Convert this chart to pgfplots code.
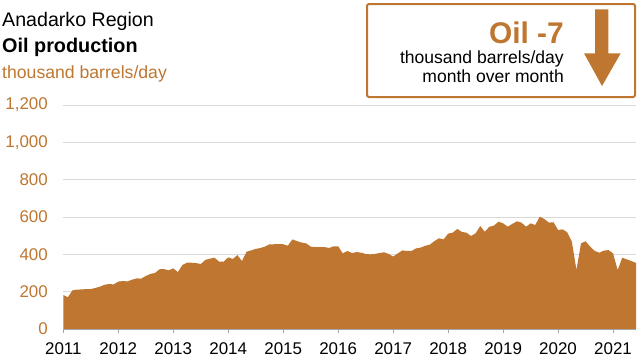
\documentclass[border=0pt]{standalone}
\usepackage{fontspec}
\setmainfont{Liberation Sans}
\usepackage{pgfplots}
\pgfplotsset{compat=1.18}
\usepackage{pgfplotstable}
\definecolor{oilc}{RGB}{190,118,48}
\definecolor{gridc}{RGB}{217,217,217}
\definecolor{basec}{RGB}{166,166,166}

\pgfplotstableread{
k v
0 182
1 170
2 207
3 211
4 212
5 214
6 214
7 220
8 227
9 237
10 241
11 239
12 254
13 257
14 255
15 264
16 271
17 270
18 284
19 295
20 300
21 320
22 321
23 314
24 325
25 305
26 343
27 355
28 355
29 353
30 348
31 370
32 377
33 382
34 361
35 361
36 384
37 375
38 396
39 364
40 414
41 421
42 429
43 434
44 441
45 454
46 454
47 455
48 454
49 446
50 480
51 471
52 463
53 459
54 441
55 439
56 439
57 439
58 434
59 443
60 443
61 405
62 418
63 407
64 412
65 409
66 402
67 400
68 402
69 407
70 411
71 402
72 388
73 405
74 421
75 418
76 418
77 432
78 436
79 446
80 452
81 471
82 486
83 480
84 511
85 516
86 536
87 520
88 516
89 498
90 513
91 552
92 521
93 548
94 554
95 575
96 566
97 548
98 563
99 577
100 570
101 548
102 566
103 557
104 602
105 589
106 570
107 572
108 530
109 534
110 518
111 468
112 316
113 459
114 470
115 441
116 418
117 409
118 420
119 423
120 405
121 316
122 382
123 373
124 364
125 354
}\oildata

\begin{document}
\begin{tikzpicture}
\useasboundingbox (0,0) rectangle (640bp,-361bp);
\begin{axis}[
  at={(63.3bp,-329bp)}, anchor=south west,
  scale only axis, width=572.7bp, height=224bp,
  xmin=2011, xmax=2021.4167, ymin=0, ymax=1200,
  axis line style={draw=none},
  xtick={2011,2012,...,2021}, ytick={0,200,...,1200},
  xtick pos=bottom,
  tick align=outside,
  major tick length=4bp,
  xtick style={basec, line width=0.8bp},
  ytick style={draw=none},
  ymajorgrids, grid style={gridc, line width=1bp},
  /pgf/number format/assume math mode=true,
  ticklabel style={font=\fontsize{17}{20}\selectfont},
  x tick label style={/pgf/number format/1000 sep={}, black, yshift=-6bp},
  y tick label style={/pgf/number format/1000 sep={,}, oilc, xshift=-8bp},
]
\addplot[fill=oilc, draw=none] table[x expr=2011+\thisrow{k}/12, y=v] {\oildata} \closedcycle;
\draw[basec, line width=1bp] (axis cs:2011,0) -- (axis cs:2021.4167,0);
\end{axis}
% titles
\node[anchor=base west, inner sep=0pt, font=\fontsize{19.7}{21}\selectfont] at (2bp,-26bp) {Anadarko Region};
\node[anchor=base west, inner sep=0pt, font=\fontsize{19.9}{21}\selectfont\bfseries] at (2bp,-52bp) {Oil production};
\node[anchor=base west, inner sep=0pt, text=oilc, font=\fontsize{17.7}{20}\selectfont] at (2bp,-78bp) {thousand barrels/day};
% box
\draw[oilc, line width=2bp, rounded corners=2bp] (367bp,-4bp) rectangle (635bp,-97bp);
\node[anchor=base east, inner sep=0pt, text=oilc, font=\fontsize{30}{32}\selectfont\bfseries] at (564bp,-43bp) {Oil -7};
\node[anchor=base east, inner sep=0pt, font=\fontsize{17.6}{20}\selectfont] at (564bp,-63bp) {thousand barrels/day};
\node[anchor=base east, inner sep=0pt, font=\fontsize{17.6}{20}\selectfont] at (564bp,-82bp) {month over month};
\fill[oilc] (595bp,-9.3bp) -- (608.3bp,-9.3bp) -- (608.3bp,-53.3bp) -- (620.7bp,-53.3bp) -- (602bp,-86bp) -- (584bp,-53.3bp) -- (595bp,-53.3bp) -- cycle;
\end{tikzpicture}
\end{document}
